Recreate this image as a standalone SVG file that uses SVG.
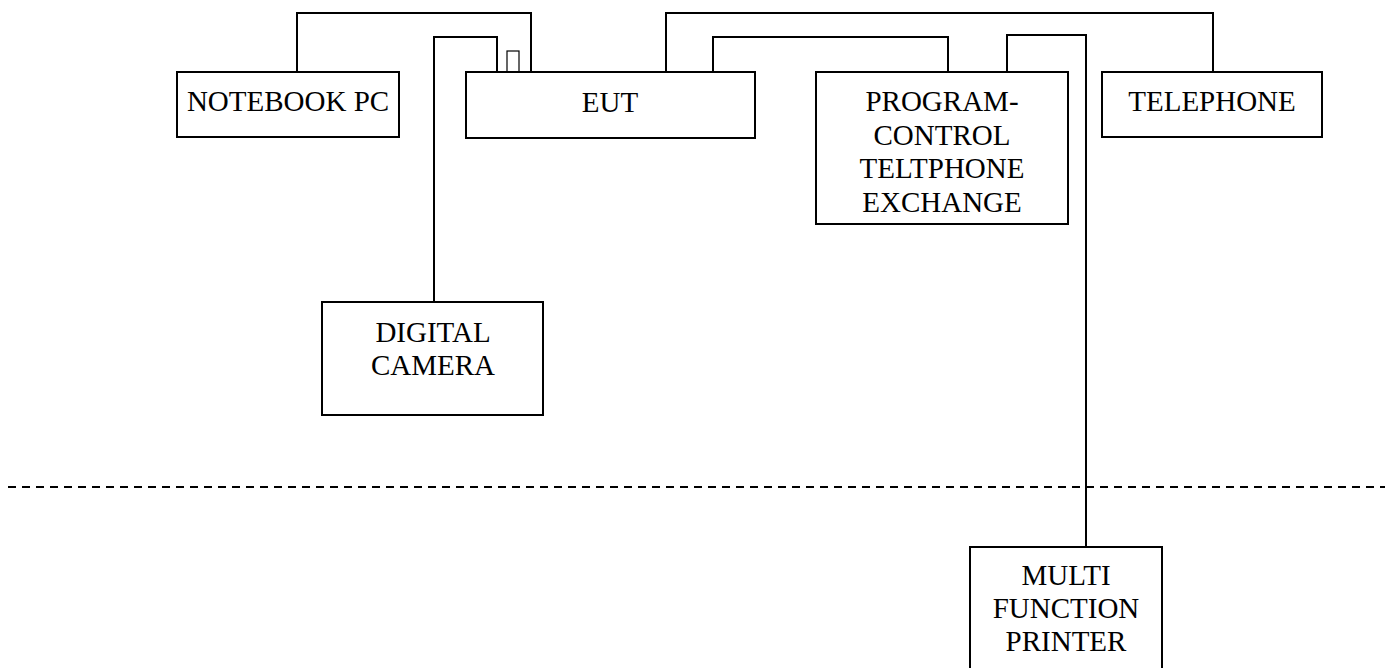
<svg xmlns="http://www.w3.org/2000/svg" width="1389" height="668" viewBox="0 0 1389 668">
  <style>
    .box { fill: #ffffff; stroke: #000000; stroke-width: 2; }
    .wire { fill: none; stroke: #000000; stroke-width: 2; }
    .label { font-family: "Liberation Serif", "Times New Roman", serif; font-size: 29px; fill: #000000; text-anchor: middle; }
  </style>
  <rect width="1389" height="668" fill="#ffffff"/>

  <!-- cabling between the units -->
  <g id="connectors">
    <polyline class="wire" points="297,72 297,13 531,13 531,72"/>
    <polyline class="wire" points="434,302 434,37 497,37 497,72"/>
    <rect x="507" y="51" width="12" height="21" fill="#ffffff" stroke="#000000" stroke-width="1.2"/>
    <polyline class="wire" points="666,72 666,13 1213,13 1213,72"/>
    <polyline class="wire" points="713,72 713,37 948,37 948,72"/>
    <polyline class="wire" points="1007,72 1007,35 1086,35 1086,547"/>
    <!-- boundary of the test area -->
    <line x1="8" y1="487" x2="1385" y2="487" stroke="#000000" stroke-width="2" stroke-dasharray="8,6"/>
  </g>

  <g id="notebook-pc">
    <rect class="box" x="177" y="72" width="222" height="65"/>
    <text class="label" x="288" y="111">NOTEBOOK PC</text>
  </g>

  <g id="eut">
    <rect class="box" x="466" y="72" width="289" height="66"/>
    <text class="label" x="610" y="112">EUT</text>
  </g>

  <g id="exchange">
    <rect class="box" x="816" y="72" width="252" height="152"/>
    <text class="label" x="942" y="111">PROGRAM-</text>
    <text class="label" x="942" y="145">CONTROL</text>
    <text class="label" x="942" y="178">TELTPHONE</text>
    <text class="label" x="942" y="212">EXCHANGE</text>
  </g>

  <g id="telephone">
    <rect class="box" x="1102" y="72" width="220" height="65"/>
    <text class="label" x="1212" y="111">TELEPHONE</text>
  </g>

  <g id="digital-camera">
    <rect class="box" x="322" y="302" width="221" height="113"/>
    <text class="label" x="433" y="342">DIGITAL</text>
    <text class="label" x="433" y="375">CAMERA</text>
  </g>

  <g id="printer">
    <rect class="box" x="970" y="547" width="192" height="130"/>
    <text class="label" x="1066" y="585">MULTI</text>
    <text class="label" x="1066" y="618">FUNCTION</text>
    <text class="label" x="1066" y="651">PRINTER</text>
  </g>
</svg>
